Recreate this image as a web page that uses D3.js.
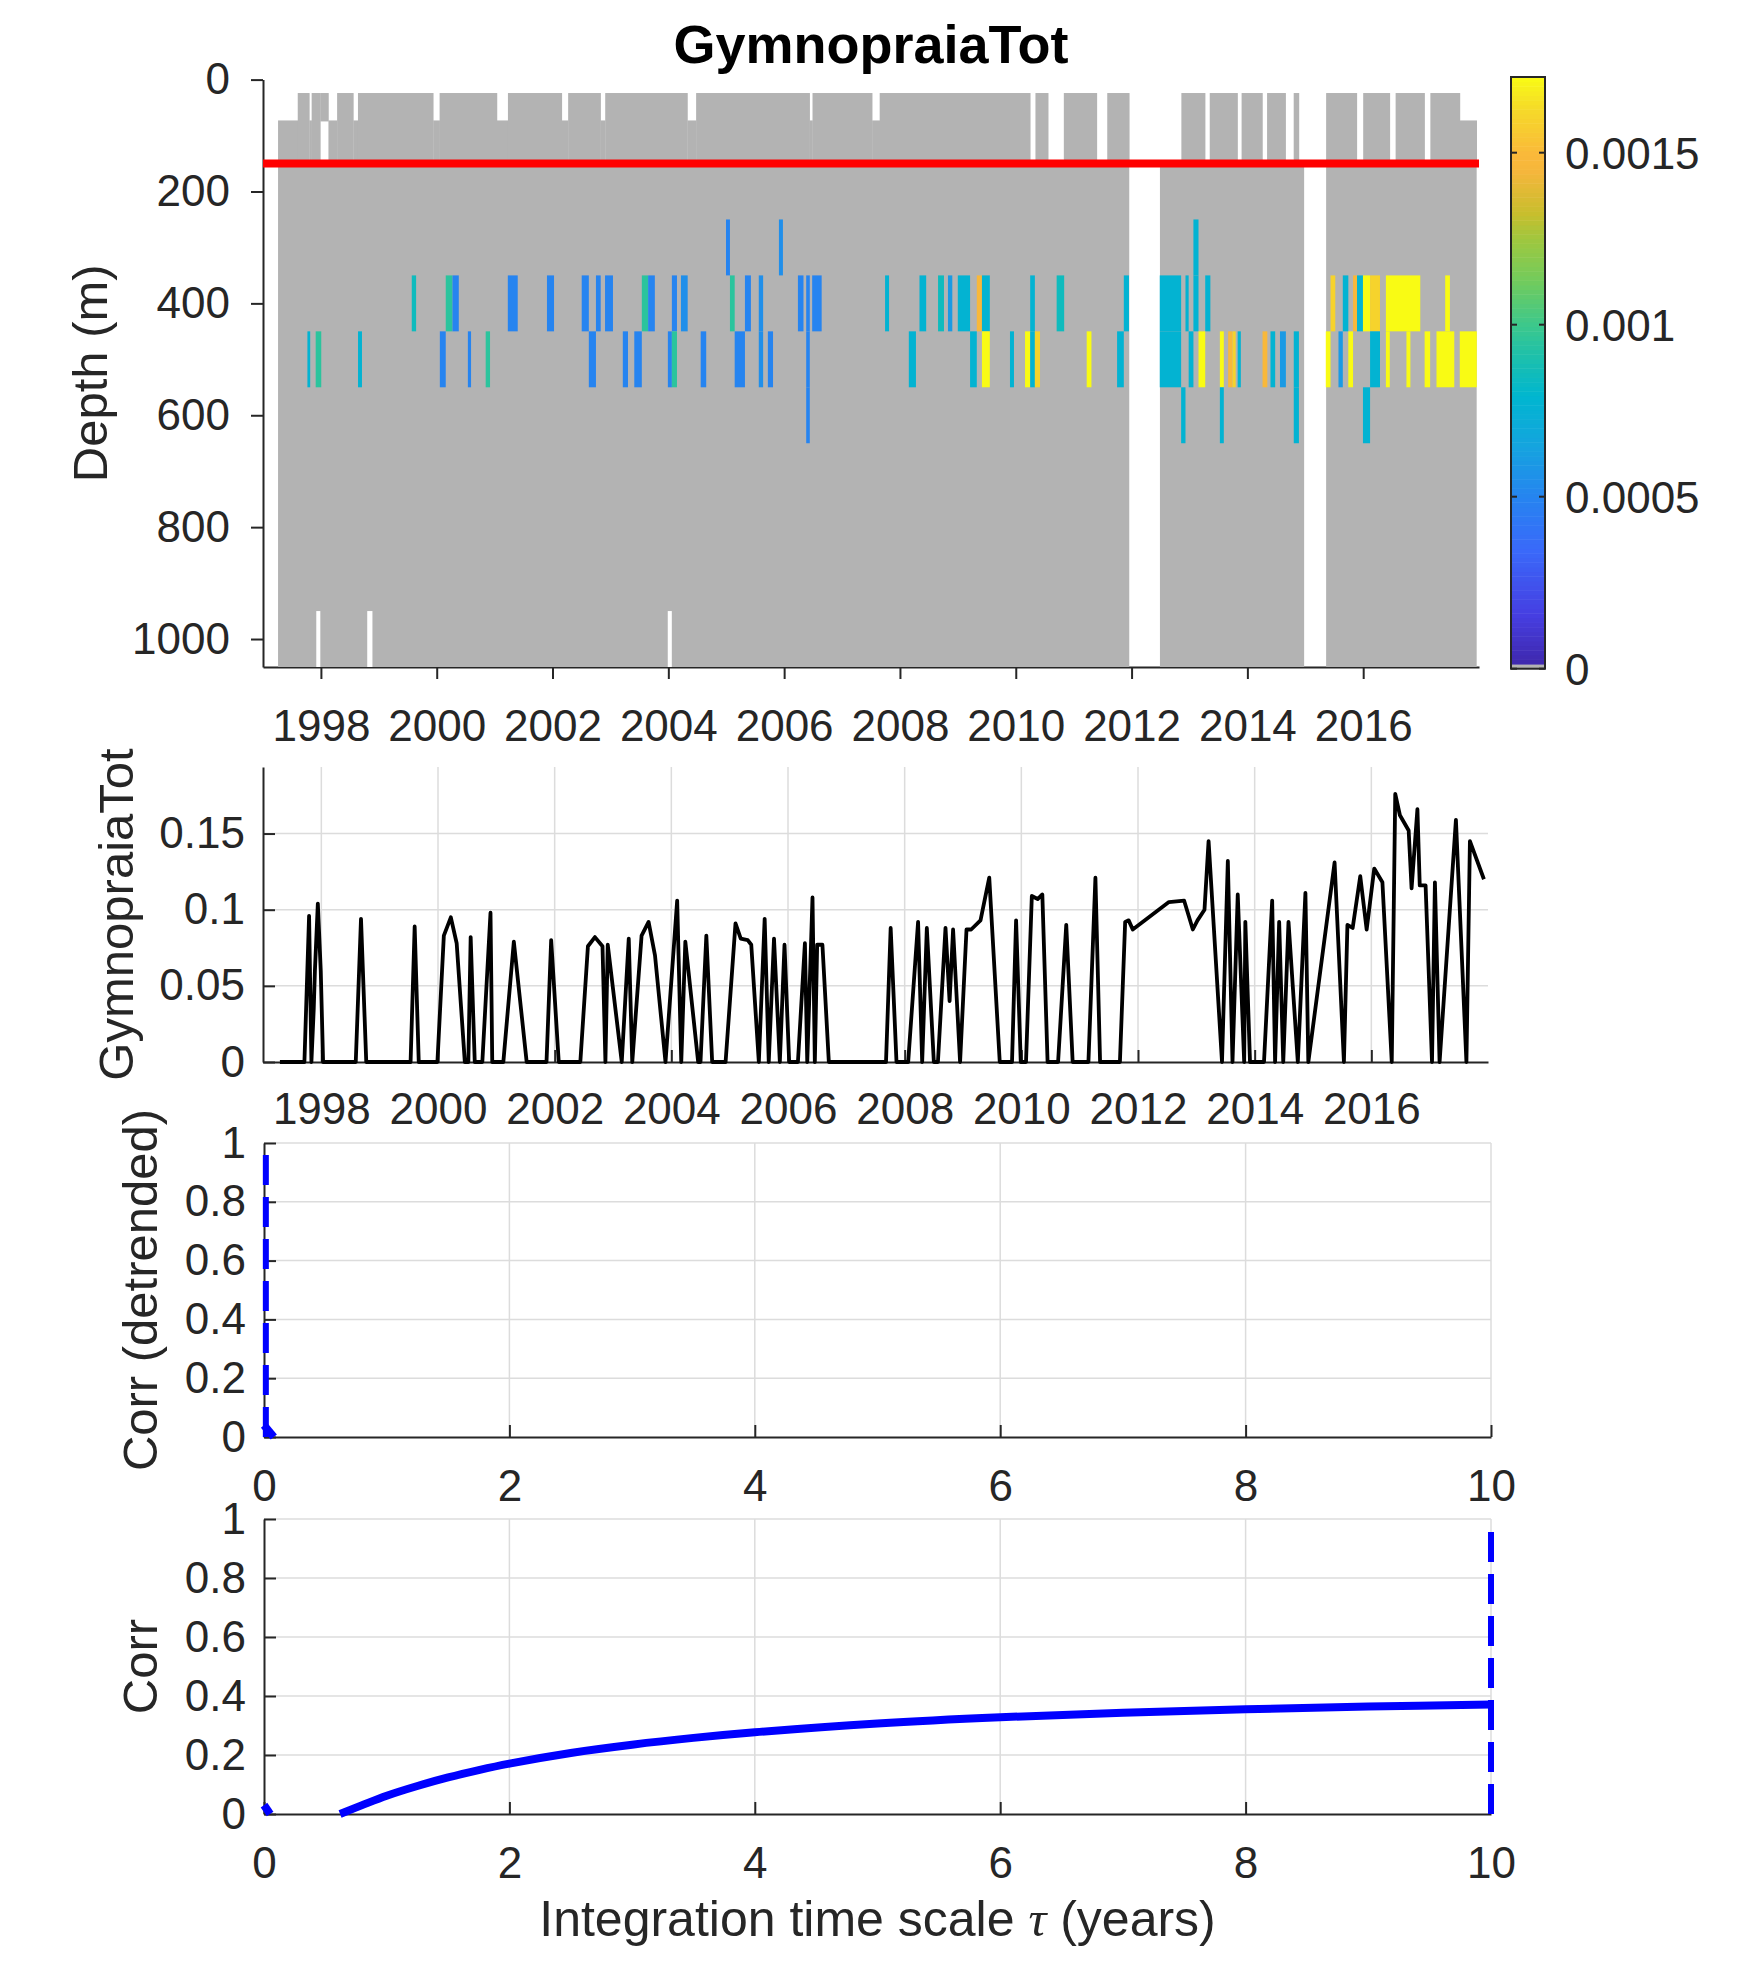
<!DOCTYPE html>
<html>
<head>
<meta charset="utf-8">
<script src="https://cdn.jsdelivr.net/npm/d3@7"></script>
<style>
body { margin: 0; background: #fff; }
text { font-family: "Liberation Sans", Arial, Helvetica, sans-serif; }
</style>
</head>
<body>
<svg id="chart" width="1750" height="1969"></svg>
<script>
// ---- ticks ----
var yearTicks = [1998, 2000, 2002, 2004, 2006, 2008, 2010, 2012, 2014, 2016];
var depthTicks = [0, 200, 400, 600, 800, 1000];
var cbarTicks = [0, 0.0005, 0.001, 0.0015];
var tsTicks = [0, 0.05, 0.1, 0.15];
var corrTicks = [0, 0.2, 0.4, 0.6, 0.8, 1];
var tauTicks = [0, 2, 4, 6, 8, 10];

// ---- top panel: sampled depth coverage (value 0 -> gray) ----
// [start year, end year, top depth, bottom depth]
var upperCover = [
  [1997.26, 1997.60, 73, 150], [1997.60, 1997.80, 24, 150], [1997.80, 1997.84, 73, 150],
  [1997.84, 1997.99, 24, 150], [1997.99, 1998.13, 24, 73], [1998.13, 1998.28, 73, 150],
  [1998.28, 1998.56, 24, 150], [1998.56, 1998.64, 73, 150], [1998.64, 1999.94, 24, 150],
  [1999.94, 2000.05, 73, 150], [2000.05, 2001.04, 24, 150], [2001.04, 2001.23, 73, 150],
  [2001.23, 2002.16, 24, 150], [2002.16, 2002.27, 73, 150], [2002.27, 2002.83, 24, 150],
  [2002.83, 2002.91, 73, 150], [2002.91, 2004.33, 24, 150], [2004.33, 2004.48, 73, 150],
  [2004.48, 2006.44, 24, 150], [2006.44, 2006.49, 73, 150], [2006.49, 2007.52, 24, 150],
  [2007.52, 2007.65, 73, 150], [2007.65, 2010.25, 24, 150], [2010.34, 2010.56, 24, 150],
  [2010.83, 2011.40, 24, 150], [2011.58, 2011.96, 24, 150], [2012.86, 2013.27, 24, 150],
  [2013.35, 2013.83, 24, 150], [2013.90, 2014.26, 24, 150], [2014.34, 2014.66, 24, 150],
  [2014.80, 2014.89, 24, 150], [2015.36, 2015.89, 24, 150], [2016.00, 2016.46, 24, 150],
  [2016.56, 2017.06, 24, 150], [2017.16, 2017.67, 24, 150], [2017.67, 2017.96, 73, 150]
];
var deepCover = [[1997.26, 2011.96], [2012.49, 2014.98], [2015.36, 2017.96]];
var deepRange = [150, 1050];
var bottomGaps = [[1997.92, 1997.99], [1998.80, 1998.89], [2003.99, 2004.06]];
var bottomGapRange = [950, 1050];
var mixedLayerDepth = 150;

// [start year, end year, depth bin centre, value]
var cells = [
  [2004.996, 2005.064, 300, 0.0005], [2005.910, 2005.979, 300, 0.00055], [2013.068, 2013.156, 300, 0.00077],

  [1999.569, 1999.644, 400, 0.00085], [2000.156, 2000.272, 400, 0.00095], [2000.272, 2000.381, 400, 0.0005],
  [2001.228, 2001.399, 400, 0.0005], [2001.904, 2002.026, 400, 0.0005], [2002.504, 2002.627, 400, 0.0005],
  [2002.750, 2002.832, 400, 0.0005], [2002.907, 2003.044, 400, 0.0005], [2003.542, 2003.651, 400, 0.00095],
  [2003.651, 2003.767, 400, 0.0005], [2004.061, 2004.149, 400, 0.0005], [2004.218, 2004.334, 400, 0.00055],
  [2005.064, 2005.146, 400, 0.00095], [2005.323, 2005.426, 400, 0.0005], [2005.562, 2005.637, 400, 0.00055],
  [2006.238, 2006.334, 400, 0.0005], [2006.381, 2006.443, 400, 0.0005], [2006.484, 2006.648, 400, 0.0005],
  [2007.743, 2007.812, 400, 0.00077], [2008.337, 2008.453, 400, 0.00077], [2008.658, 2008.760, 400, 0.00085],
  [2008.829, 2008.904, 400, 0.0006], [2008.999, 2009.211, 400, 0.00077], [2009.327, 2009.416, 400, 0.00148],
  [2009.416, 2009.552, 400, 0.00077], [2010.249, 2010.330, 400, 0.00077], [2010.706, 2010.836, 400, 0.00085],
  [2011.866, 2011.955, 400, 0.00077], [2012.487, 2012.856, 400, 0.00077], [2012.931, 2012.986, 400, 0.00077],
  [2013.068, 2013.156, 400, 0.00077], [2013.272, 2013.361, 400, 0.00077], [2015.436, 2015.518, 400, 0.0016],
  [2015.648, 2015.743, 400, 0.00077], [2015.825, 2015.893, 400, 0.00148], [2015.893, 2015.996, 400, 0.00077],
  [2015.996, 2016.119, 400, 0.0018], [2016.119, 2016.290, 400, 0.0016], [2016.392, 2016.986, 400, 0.0018],
  [2017.416, 2017.498, 400, 0.0018],

  [1997.767, 1997.815, 500, 0.00077], [1997.910, 1998.006, 500, 0.00095], [1998.641, 1998.709, 500, 0.00077],
  [2000.054, 2000.156, 500, 0.0005], [2000.538, 2000.593, 500, 0.0005], [2000.846, 2000.921, 500, 0.00095],
  [2002.627, 2002.750, 500, 0.0005], [2003.214, 2003.303, 500, 0.0005], [2003.412, 2003.542, 500, 0.0005],
  [2003.992, 2004.061, 500, 0.0005], [2004.061, 2004.149, 500, 0.00095], [2004.559, 2004.654, 500, 0.0005],
  [2005.146, 2005.323, 500, 0.0005], [2005.562, 2005.637, 500, 0.00055], [2005.719, 2005.808, 500, 0.0005],
  [2006.381, 2006.443, 500, 0.0005], [2008.153, 2008.276, 500, 0.00077], [2009.211, 2009.327, 500, 0.00077],
  [2009.416, 2009.552, 500, 0.0018], [2009.900, 2009.969, 500, 0.00077], [2010.160, 2010.249, 500, 0.0018],
  [2010.249, 2010.330, 500, 0.00077], [2010.330, 2010.419, 500, 0.0016], [2011.225, 2011.307, 500, 0.0018],
  [2011.750, 2011.866, 500, 0.00077], [2012.487, 2012.856, 500, 0.00077], [2012.986, 2013.068, 500, 0.00077],
  [2013.156, 2013.272, 500, 0.0018], [2013.525, 2013.593, 500, 0.0018], [2013.668, 2013.743, 500, 0.00148],
  [2013.743, 2013.798, 500, 0.0016], [2013.832, 2013.887, 500, 0.00077], [2014.262, 2014.344, 500, 0.00148],
  [2014.399, 2014.480, 500, 0.00077], [2014.563, 2014.665, 500, 0.0006], [2014.801, 2014.890, 500, 0.00077],
  [2015.354, 2015.436, 500, 0.0018], [2015.573, 2015.648, 500, 0.0006], [2015.743, 2015.825, 500, 0.0018],
  [2016.119, 2016.290, 500, 0.00077], [2016.392, 2016.460, 500, 0.0018], [2016.747, 2016.815, 500, 0.0018],
  [2017.061, 2017.156, 500, 0.0018], [2017.266, 2017.573, 500, 0.0018], [2017.668, 2017.962, 500, 0.0018],

  [2006.381, 2006.443, 600, 0.0005], [2012.856, 2012.931, 600, 0.00077], [2013.525, 2013.593, 600, 0.00077],
  [2014.801, 2014.890, 600, 0.00077], [2015.996, 2016.119, 600, 0.00077]
];
var binHeight = 100;
var cmax = 0.00172;

// ---- second panel: integrated time series ----
var tsYear = [
  1997.29, 1997.71, 1997.79, 1997.83, 1997.87, 1997.89, 1997.94, 1997.99, 1998.03, 1998.59,
  1998.68, 1998.77, 1999.53, 1999.60, 1999.67, 1999.99, 2000.10, 2000.22, 2000.32, 2000.46,
  2000.52, 2000.56, 2000.63, 2000.76, 2000.90, 2000.93, 2001.12, 2001.30, 2001.52, 2001.86,
  2001.94, 2002.07, 2002.44, 2002.57, 2002.69, 2002.82, 2002.87, 2002.91, 2003.15, 2003.27,
  2003.33, 2003.49, 2003.61, 2003.72, 2003.90, 2004.10, 2004.17, 2004.24, 2004.46, 2004.50,
  2004.60, 2004.70, 2004.93, 2005.10, 2005.19, 2005.31, 2005.37, 2005.50, 2005.60, 2005.67,
  2005.76, 2005.86, 2005.94, 2006.02, 2006.17, 2006.29, 2006.33, 2006.42, 2006.46, 2006.50,
  2006.59, 2006.70, 2007.68, 2007.76, 2007.86, 2008.06, 2008.23, 2008.30, 2008.38, 2008.50,
  2008.57, 2008.70, 2008.77, 2008.83, 2008.95, 2009.06, 2009.14, 2009.30, 2009.45, 2009.63,
  2009.84, 2009.91, 2009.99, 2010.08, 2010.18, 2010.28, 2010.36, 2010.45, 2010.63, 2010.77,
  2010.88, 2011.15, 2011.27, 2011.35, 2011.69, 2011.78, 2011.84, 2011.91, 2012.53, 2012.79,
  2012.94, 2013.02, 2013.14, 2013.21, 2013.44, 2013.54, 2013.62, 2013.71, 2013.82, 2013.84,
  2013.92, 2014.16, 2014.30, 2014.35, 2014.42, 2014.49, 2014.58, 2014.74, 2014.87, 2014.92,
  2015.37, 2015.53, 2015.59, 2015.68, 2015.81, 2015.92, 2016.05, 2016.19, 2016.35, 2016.41,
  2016.49, 2016.64, 2016.69, 2016.79, 2016.83, 2016.93, 2017.04, 2017.09, 2017.17, 2017.45,
  2017.63, 2017.69, 2017.93
];
var tsValue = [
  0, 0, 0.096, 0, 0.035, 0.06, 0.104, 0.06, 0, 0,
  0.094, 0, 0, 0.089, 0, 0, 0.083, 0.095, 0.078, 0,
  0, 0.082, 0, 0, 0.098, 0, 0, 0.079, 0, 0,
  0.080, 0, 0, 0.076, 0.082, 0.076, 0, 0.077, 0, 0.081,
  0, 0.083, 0.092, 0.070, 0, 0.106, 0, 0.079, 0, 0,
  0.083, 0, 0, 0.091, 0.081, 0.080, 0.077, 0, 0.094, 0,
  0.081, 0, 0.077, 0, 0, 0.078, 0, 0.108, 0, 0.077,
  0.077, 0, 0, 0.088, 0, 0, 0.092, 0, 0.088, 0,
  0, 0.088, 0.040, 0.087, 0, 0.087, 0.087, 0.093, 0.121, 0,
  0, 0.093, 0, 0, 0.109, 0.107, 0.110, 0, 0, 0.090,
  0, 0, 0.121, 0, 0, 0.092, 0.093, 0.087, 0.105, 0.106,
  0.087, 0.093, 0.100, 0.145, 0, 0.132, 0, 0.110, 0, 0.092,
  0, 0, 0.106, 0, 0.092, 0, 0.092, 0, 0.111, 0,
  0.131, 0, 0.090, 0.088, 0.122, 0.087, 0.127, 0.118, 0, 0.176,
  0.162, 0.152, 0.114, 0.166, 0.116, 0.116, 0, 0.118, 0, 0.159,
  0, 0.145, 0.120
];
var tsMax = 0.1937;

// ---- third panel: detrended correlation vs integration time scale ----
var detrTau = [0.0, 0.08];
var detrCorr = [0.04, 0.0];
var detrBestTau = 0.015;

// ---- fourth panel: correlation vs integration time scale ----
var corrTauShort = [0.0, 0.05];
var corrShort = [0.03, 0.0];
var corrTau = [0.62, 0.8, 1.0, 1.25, 1.5, 1.75, 2, 2.5, 3, 3.5, 4, 5, 6, 7, 8, 9, 10];
var corrVal = [0, 0.03, 0.062, 0.095, 0.124, 0.149, 0.171, 0.207, 0.235, 0.258, 0.277, 0.307, 0.328, 0.343, 0.355, 0.364, 0.371];
var corrBestTau = 10;
var bestLineTop = 0.98;

// parula-like colour map (first entry gray)
var parulaPos = [0, 0.09, 0.20, 0.29, 0.38, 0.46, 0.53, 0.58, 0.65, 0.72, 0.77, 0.84, 0.87, 0.95, 1];
var parulaCol = ["#3e26a8", "#463ee1", "#3a69fa", "#2684f0", "#14a5de", "#00b6d0", "#1ec0aa",
                 "#3cc88c", "#6ecb5f", "#9bc841", "#c8be2d", "#f5b63c", "#fab93a", "#f5dc28", "#f9fb14"];
var grayColor = "#b3b3b3";

var FONT = '"Liberation Sans", Arial, Helvetica, sans-serif';
var INK = "#262626";
var GRID = "#dcdcdc";

var svg = d3.select("#chart");
svg.append("rect").attr("width", 1750).attr("height", 1969).attr("fill", "#fff");

var cmap = d3.scaleLinear().domain(parulaPos.map(function(p) { return p * cmax; }))
  .range(parulaCol).interpolate(d3.interpolateRgb).clamp(true);
function colorOf(v) { return v < cmax / 128 ? grayColor : cmap(v); }

function styleAxis(g) {
  g.attr("font-size", 44).attr("font-family", FONT);
  g.selectAll("text").attr("fill", INK);
  g.selectAll("line").attr("stroke", INK).attr("stroke-width", 2);
  g.select(".domain").attr("stroke", INK).attr("stroke-width", 2);
}

// ================= panel 1 : heat map =================
var x1 = d3.scaleLinear().domain([1997, 2018]).range([263, 1479]);
var y1 = d3.scaleLinear().domain([0, 1050]).range([79.6, 667]);

svg.append("g").attr("transform", "translate(0,667)")
  .call(d3.axisBottom(x1).tickValues(yearTicks).tickFormat(d3.format("d"))
    .tickSize(12).tickSizeOuter(0).tickPadding(31))
  .call(styleAxis);
svg.append("g").attr("transform", "translate(263,0)")
  .call(d3.axisLeft(y1).tickValues(depthTicks).tickFormat(d3.format("d"))
    .tickSize(12).tickSizeOuter(0).tickPadding(21))
  .call(styleAxis);

var hm = svg.append("g");
hm.selectAll("rect.deep").data(deepCover).enter().append("rect")
  .attr("x", function(d) { return x1(d[0]); })
  .attr("width", function(d) { return x1(d[1]) - x1(d[0]); })
  .attr("y", y1(deepRange[0]))
  .attr("height", y1(deepRange[1]) - y1(deepRange[0]))
  .attr("fill", colorOf(0));
hm.selectAll("rect.up").data(upperCover).enter().append("rect")
  .attr("x", function(d) { return x1(d[0]); })
  .attr("width", function(d) { return x1(d[1]) - x1(d[0]) + 0.3; })
  .attr("y", function(d) { return y1(d[2]); })
  .attr("height", function(d) { return y1(d[3]) - y1(d[2]) + 1; })
  .attr("fill", colorOf(0));
hm.selectAll("rect.gap").data(bottomGaps).enter().append("rect")
  .attr("x", function(d) { return x1(d[0]); })
  .attr("width", function(d) { return x1(d[1]) - x1(d[0]); })
  .attr("y", y1(bottomGapRange[0]))
  .attr("height", y1(bottomGapRange[1]) - y1(bottomGapRange[0]))
  .attr("fill", "#fff");
hm.selectAll("rect.cell").data(cells).enter().append("rect")
  .attr("x", function(d) { return x1(d[0]); })
  .attr("width", function(d) { return x1(d[1]) - x1(d[0]); })
  .attr("y", function(d) { return y1(d[2] - binHeight / 2); })
  .attr("height", function(d) { return y1(d[2] + binHeight / 2) - y1(d[2] - binHeight / 2); })
  .attr("fill", function(d) { return colorOf(d[3]); });

svg.append("line")
  .attr("x1", x1.range()[0]).attr("x2", x1.range()[1])
  .attr("y1", y1(mixedLayerDepth)).attr("y2", y1(mixedLayerDepth))
  .attr("stroke", "#ff0000").attr("stroke-width", 8);

svg.append("text").attr("x", (x1.range()[0] + x1.range()[1]) / 2).attr("y", 63)
  .attr("text-anchor", "middle").attr("font-size", 54).attr("font-weight", "bold")
  .attr("fill", "#000").text("GymnopraiaTot");

svg.append("text").attr("transform", "translate(107," + ((y1.range()[0] + y1.range()[1]) / 2) + ") rotate(-90)")
  .attr("text-anchor", "middle").attr("font-size", 49).attr("fill", INK).text("Depth (m)");

// colour bar
var cby = d3.scaleLinear().domain([0, cmax]).range([668.7, 77]);
var cbx0 = 1511, cbw = 34, nCol = 128;
var cbBins = d3.range(nCol);
svg.append("g").selectAll("rect").data(cbBins).enter().append("rect")
  .attr("x", cbx0).attr("width", cbw)
  .attr("y", function(i) { return cby((i + 1) * cmax / nCol); })
  .attr("height", function(i) { return cby(i * cmax / nCol) - cby((i + 1) * cmax / nCol) + 0.5; })
  .attr("fill", function(i) { return i === 0 ? grayColor : cmap((i + 0.5) * cmax / nCol); });
svg.append("rect").attr("x", cbx0).attr("y", cby(cmax)).attr("width", cbw)
  .attr("height", cby(0) - cby(cmax)).attr("fill", "none").attr("stroke", INK).attr("stroke-width", 2);
var cbt = svg.append("g").selectAll("g").data(cbarTicks).enter().append("g");
cbt.append("line").attr("x1", cbx0).attr("x2", cbx0 + 6)
  .attr("y1", function(d) { return cby(d); }).attr("y2", function(d) { return cby(d); })
  .attr("stroke", INK).attr("stroke-width", 2);
cbt.append("line").attr("x1", cbx0 + cbw - 6).attr("x2", cbx0 + cbw)
  .attr("y1", function(d) { return cby(d); }).attr("y2", function(d) { return cby(d); })
  .attr("stroke", INK).attr("stroke-width", 2);
cbt.append("text").attr("x", 1565).attr("y", function(d) { return cby(d); })
  .attr("dy", "0.36em").attr("font-size", 44).attr("fill", INK)
  .text(function(d) { return String(d); });

// ================= panel 2 : time series =================
var x2 = d3.scaleLinear().domain([1997, 2018]).range([263, 1488]);
var y2 = d3.scaleLinear().domain([0, tsMax]).range([1062, 767]);

var g2 = svg.append("g");
g2.selectAll("line.vg").data(yearTicks).enter().append("line")
  .attr("x1", function(d) { return x2(d); }).attr("x2", function(d) { return x2(d); })
  .attr("y1", y2.range()[0]).attr("y2", y2.range()[1]).attr("stroke", GRID).attr("stroke-width", 1.5);
g2.selectAll("line.hg").data(tsTicks.slice(1)).enter().append("line")
  .attr("x1", x2.range()[0]).attr("x2", x2.range()[1])
  .attr("y1", function(d) { return y2(d); }).attr("y2", function(d) { return y2(d); })
  .attr("stroke", GRID).attr("stroke-width", 1.5);

svg.append("g").attr("transform", "translate(0,1062)")
  .call(d3.axisBottom(x2).tickValues(yearTicks).tickFormat(d3.format("d"))
    .tickSize(-12).tickSizeOuter(0).tickPadding(31))
  .call(styleAxis);
svg.append("g").attr("transform", "translate(263,0)")
  .call(d3.axisLeft(y2).tickValues(tsTicks).tickFormat(d3.format("~g"))
    .tickSize(-12).tickSizeOuter(0).tickPadding(18))
  .call(styleAxis);

var tsLine = d3.line().x(function(d) { return x2(d[0]); }).y(function(d) { return y2(d[1]); });
svg.append("path").datum(d3.zip(tsYear, tsValue)).attr("d", tsLine)
  .attr("fill", "none").attr("stroke", "#000").attr("stroke-width", 3.8).attr("stroke-linejoin", "round");

svg.append("text").attr("transform", "translate(133," + ((y2.range()[0] + y2.range()[1]) / 2) + ") rotate(-90)")
  .attr("text-anchor", "middle").attr("font-size", 49).attr("fill", INK).text("GymnopraiaTot");

// ================= panels 3 & 4 : correlation =================
var xc = d3.scaleLinear().domain([0, 10]).range([264, 1491]);

function corrPanel(top, bottom, label) {
  var yc = d3.scaleLinear().domain([0, 1]).range([bottom, top]);
  var g = svg.append("g");
  g.selectAll("line.vg").data(tauTicks.slice(1)).enter().append("line")
    .attr("x1", function(d) { return xc(d); }).attr("x2", function(d) { return xc(d); })
    .attr("y1", bottom).attr("y2", top).attr("stroke", GRID).attr("stroke-width", 1.5);
  g.selectAll("line.hg").data(corrTicks.slice(1)).enter().append("line")
    .attr("x1", xc.range()[0]).attr("x2", xc.range()[1])
    .attr("y1", function(d) { return yc(d); }).attr("y2", function(d) { return yc(d); })
    .attr("stroke", GRID).attr("stroke-width", 1.5);
  svg.append("g").attr("transform", "translate(0," + bottom + ")")
    .call(d3.axisBottom(xc).tickValues(tauTicks).tickSize(-12).tickSizeOuter(0).tickPadding(33))
    .call(styleAxis);
  svg.append("g").attr("transform", "translate(264,0)")
    .call(d3.axisLeft(yc).tickValues(corrTicks).tickFormat(d3.format("~g"))
      .tickSize(-12).tickSizeOuter(0).tickPadding(18))
    .call(styleAxis);
  svg.append("text").attr("transform", "translate(157," + ((top + bottom) / 2) + ") rotate(-90)")
    .attr("text-anchor", "middle").attr("font-size", 49).attr("fill", INK).text(label);
  return yc;
}

function blueLine(yc, xs, ys) {
  var ln = d3.line().x(function(d) { return xc(d[0]); }).y(function(d) { return yc(d[1]); })
    .curve(d3.curveCatmullRom);
  return svg.append("path").datum(d3.zip(xs, ys)).attr("d", ln)
    .attr("fill", "none").attr("stroke", "#0000ff").attr("stroke-width", 8)
    .attr("stroke-linejoin", "round");
}
function bestLine(yc, tau) {
  svg.append("line").attr("x1", xc(tau)).attr("x2", xc(tau))
    .attr("y1", yc(0)).attr("y2", yc(bestLineTop))
    .attr("stroke", "#0000ff").attr("stroke-width", 6).attr("stroke-dasharray", "30,12");
}

var yc3 = corrPanel(1143, 1437, "Corr (detrended)");
blueLine(yc3, detrTau, detrCorr);
bestLine(yc3, detrBestTau);

var yc4 = corrPanel(1519, 1814, "Corr");
blueLine(yc4, corrTauShort, corrShort);
blueLine(yc4, corrTau, corrVal);
bestLine(yc4, corrBestTau);

var xl = svg.append("text").attr("x", (xc.range()[0] + xc.range()[1]) / 2).attr("y", 1936)
  .attr("text-anchor", "middle").attr("font-size", 50).attr("fill", INK);
xl.append("tspan").text("Integration time scale ");
xl.append("tspan").attr("font-family", '"Liberation Serif", "DejaVu Serif", serif')
  .attr("font-style", "italic").text("\u03c4");
xl.append("tspan").text(" (years)");
</script>
</body>
</html>
